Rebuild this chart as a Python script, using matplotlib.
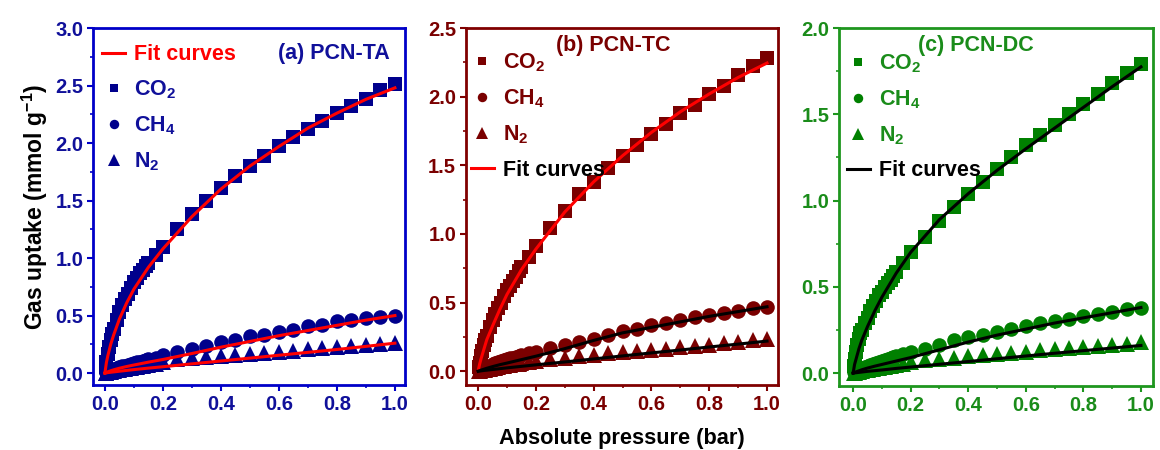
import matplotlib
matplotlib.use("Agg")
import matplotlib.pyplot as plt
from matplotlib.ticker import MultipleLocator
from matplotlib.lines import Line2D

plt.rcParams['font.family'] = ['Liberation Sans', 'DejaVu Sans']
plt.rcParams['font.weight'] = 'bold'
plt.rcParams['mathtext.fontset'] = 'custom'
plt.rcParams['mathtext.rm'] = 'Liberation Sans:bold'
plt.rcParams['mathtext.it'] = 'Liberation Sans:bold'
plt.rcParams['mathtext.bf'] = 'Liberation Sans:bold'
plt.rcParams['mathtext.default'] = 'rm'

# ---------------- data ----------------
pressure = [0.002, 0.005, 0.01, 0.015, 0.02, 0.025, 0.03, 0.04, 0.05, 0.06, 0.07,
            0.08, 0.09, 0.10, 0.11, 0.12, 0.13, 0.14, 0.15, 0.175, 0.2,
            0.25, 0.30, 0.35, 0.40, 0.45, 0.50, 0.55, 0.60, 0.65, 0.70, 0.75,
            0.80, 0.85, 0.90, 0.95, 1.0]
p_fit = [0, 0.005, 0.01, 0.02, 0.03, 0.05, 0.075, 0.1, 0.15, 0.2, 0.3, 0.4, 0.5,
         0.6, 0.7, 0.8, 0.9, 1.0]

# (a) PCN-TA
a_co2 = [0.05, 0.10, 0.17, 0.23, 0.29, 0.34, 0.38, 0.46, 0.53, 0.59, 0.64,
         0.69, 0.74, 0.79, 0.83, 0.87, 0.90, 0.93, 0.96, 1.03, 1.10,
         1.25, 1.38, 1.50, 1.61, 1.71, 1.80, 1.89, 1.97, 2.05, 2.12, 2.19,
         2.26, 2.32, 2.38, 2.46, 2.51]
a_ch4 = [0.005, 0.01, 0.015, 0.02, 0.025, 0.03, 0.035, 0.042, 0.05, 0.058, 0.065,
         0.072, 0.08, 0.087, 0.094, 0.10, 0.107, 0.113, 0.12, 0.135, 0.155,
         0.18, 0.21, 0.237, 0.266, 0.29, 0.318, 0.333, 0.36, 0.376, 0.405, 0.42,
         0.45, 0.46, 0.48, 0.49, 0.50]
a_n2 = [0.002, 0.004, 0.007, 0.01, 0.013, 0.016, 0.019, 0.024, 0.029, 0.034, 0.039,
        0.044, 0.048, 0.053, 0.057, 0.061, 0.065, 0.069, 0.073, 0.083, 0.092,
        0.12, 0.13, 0.138, 0.147, 0.156, 0.165, 0.175, 0.185, 0.195, 0.205, 0.215,
        0.225, 0.235, 0.245, 0.255, 0.265]
a_co2_fit = [0, 0.09, 0.15, 0.25, 0.33, 0.47, 0.61, 0.73, 0.92, 1.08, 1.36, 1.60,
             1.80, 1.97, 2.13, 2.26, 2.38, 2.48]
a_ch4_fit = [0, 0.006, 0.011, 0.02, 0.028, 0.042, 0.057, 0.07, 0.095, 0.118, 0.17,
             0.225, 0.275, 0.325, 0.37, 0.415, 0.46, 0.50]
a_n2_fit = [0, 0.002, 0.004, 0.007, 0.01, 0.016, 0.023, 0.03, 0.043, 0.055, 0.08,
            0.105, 0.13, 0.155, 0.18, 0.205, 0.232, 0.26]

# (b) PCN-TC
b_co2 = [0.03, 0.06, 0.11, 0.15, 0.19, 0.23, 0.26, 0.32, 0.37, 0.42, 0.46,
         0.50, 0.55, 0.59, 0.62, 0.66, 0.69, 0.73, 0.76, 0.83, 0.91,
         1.04, 1.17, 1.29, 1.38, 1.48, 1.57, 1.65, 1.73, 1.80, 1.88, 1.94,
         2.02, 2.08, 2.16, 2.22, 2.28]
b_ch4 = [0.005, 0.01, 0.015, 0.02, 0.025, 0.03, 0.034, 0.042, 0.05, 0.058, 0.066,
         0.073, 0.08, 0.087, 0.094, 0.10, 0.107, 0.113, 0.12, 0.13, 0.14,
         0.17, 0.19, 0.214, 0.238, 0.267, 0.29, 0.31, 0.335, 0.354, 0.376, 0.395,
         0.41, 0.425, 0.44, 0.46, 0.47]
b_n2 = [0.002, 0.004, 0.006, 0.008, 0.01, 0.013, 0.015, 0.019, 0.023, 0.027, 0.031,
        0.035, 0.039, 0.043, 0.047, 0.05, 0.053, 0.056, 0.059, 0.066, 0.073,
        0.09, 0.10, 0.11, 0.12, 0.13, 0.14, 0.147, 0.155, 0.165, 0.175, 0.185,
        0.195, 0.205, 0.215, 0.225, 0.235]
b_co2_fit = [0, 0.05, 0.09, 0.16, 0.23, 0.33, 0.45, 0.56, 0.74, 0.89, 1.16, 1.38,
             1.57, 1.74, 1.89, 2.02, 2.14, 2.245]
b_ch4_fit = [0, 0.004, 0.008, 0.015, 0.022, 0.034, 0.048, 0.06, 0.085, 0.11, 0.165,
             0.225, 0.28, 0.32, 0.36, 0.40, 0.435, 0.47]
b_n2_fit = [0, 0.0015, 0.003, 0.006, 0.008, 0.013, 0.019, 0.025, 0.036, 0.047, 0.068,
            0.09, 0.112, 0.134, 0.155, 0.177, 0.198, 0.22]

# (c) PCN-DC
c_co2 = [0.04, 0.08, 0.12, 0.16, 0.20, 0.23, 0.25, 0.29, 0.32, 0.36, 0.39,
         0.42, 0.45, 0.47, 0.50, 0.52, 0.54, 0.56, 0.585, 0.64, 0.70,
         0.79, 0.88, 0.96, 1.04, 1.11, 1.18, 1.25, 1.32, 1.38, 1.44, 1.50,
         1.56, 1.62, 1.68, 1.74, 1.79]
c_ch4 = [0.004, 0.008, 0.012, 0.016, 0.02, 0.024, 0.028, 0.034, 0.04, 0.046, 0.052,
         0.058, 0.064, 0.07, 0.076, 0.081, 0.087, 0.092, 0.097, 0.108, 0.12,
         0.14, 0.165, 0.19, 0.21, 0.22, 0.24, 0.257, 0.275, 0.29, 0.30, 0.315,
         0.33, 0.345, 0.355, 0.37, 0.38]
c_n2 = [0.002, 0.003, 0.005, 0.007, 0.009, 0.011, 0.013, 0.016, 0.019, 0.022, 0.025,
        0.028, 0.031, 0.034, 0.037, 0.04, 0.043, 0.046, 0.049, 0.055, 0.062,
        0.077, 0.083, 0.09, 0.097, 0.104, 0.112, 0.118, 0.125, 0.131, 0.137, 0.143,
        0.149, 0.156, 0.163, 0.17, 0.178]
c_co2_fit = [0, 0.05, 0.08, 0.14, 0.19, 0.27, 0.36, 0.44, 0.58, 0.70, 0.89, 1.04,
             1.175, 1.30, 1.42, 1.54, 1.66, 1.775]
c_ch4_fit = [0, 0.004, 0.007, 0.013, 0.019, 0.029, 0.04, 0.05, 0.07, 0.09, 0.135,
             0.18, 0.22, 0.255, 0.29, 0.32, 0.35, 0.38]
c_n2_fit = [0, 0.001, 0.002, 0.004, 0.006, 0.01, 0.014, 0.018, 0.027, 0.035, 0.051,
            0.067, 0.083, 0.099, 0.115, 0.13, 0.145, 0.16]

panel_titles = ["(a) PCN-TA", "(b) PCN-TC", "(c) PCN-DC"]
gas_labels = ["CO$_2$", "CH$_4$", "N$_2$"]
fit_label = "Fit curves"
y_max = [3.0, 2.5, 2.0]
x_ticks = [0.0, 0.2, 0.4, 0.6, 0.8, 1.0]

# ---------------- styling ----------------
fig = plt.figure(figsize=(11.6, 4.5), dpi=100)
rects = [[0.0802, 0.1444, 0.269, 0.7933],
         [0.4017, 0.1444, 0.269, 0.7933],
         [0.7233, 0.1422, 0.2707, 0.7955]]
ymins = [-0.104, -0.1, -0.075]
xlims = [(-0.041, 1.035), (-0.042, 1.038), (-0.049, 1.042)]

panels = [
    dict(data=(a_co2, a_ch4, a_n2), fits=(a_co2_fit, a_ch4_fit, a_n2_fit),
         mc='#00008C', spine='#0000C8', text='#10109A',
         fitc=('#FF0000', '#FF0000', '#FF0000'), fit_leg='#FF0000', fit_first=True,
         leg_anchor=(-0.019, 0.997), title_xy=(0.772, 0.93)),
    dict(data=(b_co2, b_ch4, b_n2), fits=(b_co2_fit, b_ch4_fit, b_n2_fit),
         mc='#7A0000', spine='#800000', text='#7A0000',
         fitc=('#FF0000', '#000000', '#000000'), fit_leg='#FF0000', fit_first=False,
         leg_anchor=(-0.0325, 0.976), title_xy=(0.471, 0.952)),
    dict(data=(c_co2, c_ch4, c_n2), fits=(c_co2_fit, c_ch4_fit, c_n2_fit),
         mc='#008000', spine='#1E961E', text='#1A8C1A',
         fitc=('#000000', '#000000', '#000000'), fit_leg='#000000', fit_first=False,
         leg_anchor=(-0.023, 0.974), title_xy=(0.436, 0.952)),
]
markers = ['s', 'o', '^']
msizes = [9.5, 10.5, 11.0]
leg_msizes = [6.0, 6.8, 8.0]

for i, pn in enumerate(panels):
    ax = fig.add_axes(rects[i])
    for d, m, ms in zip(pn['data'], markers, msizes):
        ax.plot(pressure, d, linestyle='none', marker=m, markersize=ms,
                color=pn['mc'], markeredgewidth=0, zorder=2)
    for f, fc in zip(pn['fits'], pn['fitc']):
        ax.plot(p_fit, f, color=fc, linewidth=2.2, zorder=3)

    ax.set_xlim(*xlims[i])
    ax.set_ylim(ymins[i], y_max[i])
    ax.set_xticks(x_ticks)
    ax.xaxis.set_minor_locator(MultipleLocator(0.1))
    ax.yaxis.set_major_locator(MultipleLocator(0.5))
    ax.yaxis.set_minor_locator(MultipleLocator(0.25))
    for s in ax.spines.values():
        s.set_color(pn['spine'])
        s.set_linewidth(2.0)
    ax.tick_params(which='major', direction='out', length=4, width=1.5, pad=3,
                   colors=pn['spine'], labelcolor=pn['text'], labelsize=14.5)
    ax.tick_params(which='minor', direction='out', length=2.5, width=1.2,
                   colors=pn['spine'])
    for lab in ax.get_xticklabels() + ax.get_yticklabels():
        lab.set_fontweight('bold')

    handles = [Line2D([], [], linestyle='none', marker=m, markersize=ms,
                      color=pn['mc'], markeredgewidth=0)
               for m, ms in zip(markers, leg_msizes)]
    labels = list(gas_labels)
    fit_h = Line2D([], [], color=pn['fit_leg'], linewidth=2.2)
    if pn['fit_first']:
        handles = [fit_h] + handles
        labels = [fit_label] + labels
    else:
        handles = handles + [fit_h]
        labels = labels + [fit_label]
    leg = ax.legend(handles, labels, loc='upper left', bbox_to_anchor=pn['leg_anchor'],
                    frameon=False, fontsize=15.5, handlelength=1.07, handletextpad=0.4,
                    labelspacing=0.62, borderaxespad=0.3)
    for t in leg.get_texts():
        t.set_fontweight('bold')
        t.set_color(pn['text'])
    if pn['fit_first']:
        leg.get_texts()[0].set_color('#FF0000')
    else:
        leg.get_texts()[-1].set_color('#000000')

    ax.text(pn['title_xy'][0], pn['title_xy'][1], panel_titles[i], transform=ax.transAxes,
            ha='center', va='center', fontsize=15.5, fontweight='bold', color=pn['text'])

    if i == 0:
        ax.set_ylabel("Gas uptake (mmol g$^{-1}$)", fontsize=16.5, fontweight='bold',
                      color='black', labelpad=4)
    if i == 1:
        ax.set_xlabel("Absolute pressure (bar)", fontsize=15.7, fontweight='bold',
                      color='black', labelpad=10)

fig.savefig("out.png", dpi=100)
